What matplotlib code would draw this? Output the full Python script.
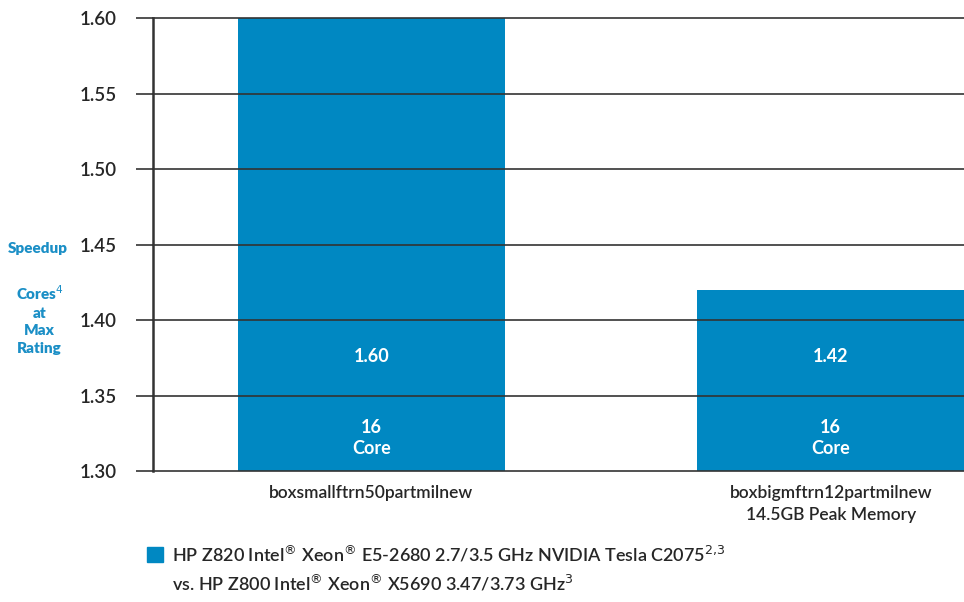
import matplotlib
matplotlib.use("Agg")
import matplotlib.pyplot as plt
from matplotlib.patches import Rectangle

# Data
categories = ["boxsmallftrn50partmilnew", "boxbigmftrn12partmilnew\n14.5GB Peak Memory"]
speedup = [1.60, 1.42]
cores = [16, 16]
yticks = [1.30, 1.35, 1.40, 1.45, 1.50, 1.55, 1.60]

BLUE = "#0088c2"
LABEL_BLUE = "#1b8fc6"
TEXT = "#262626"

plt.rcParams["font.family"] = ["Lato", "DejaVu Sans"]

fig = plt.figure(figsize=(9.64, 6.02), dpi=100)
ax = fig.add_axes([0.1587, 0.2176, 0.8413, 0.7525])

x = list(range(len(categories)))
ax.bar(x, speedup, width=0.582, color=BLUE, zorder=1)

ax.set_ylim(1.30, 1.60)
ax.set_xlim(-0.475, 1.29)
ax.set_yticks(yticks)
ax.set_yticklabels([f"{v:.2f}" for v in yticks], fontsize=13.5, color=TEXT,
                   fontweight="semibold")
ax.set_xticks(x)
ax.set_xticklabels(categories, fontsize=12.5, color=TEXT, linespacing=1.5,
                   fontweight="semibold")
ax.tick_params(axis="x", length=0, pad=10)
ax.tick_params(axis="y", length=12, width=1.2, color="#333333", pad=14)

for y in yticks:
    ax.axhline(y, color="#333333", lw=1.2, zorder=3, clip_on=False)

for s in ["top", "right", "bottom"]:
    ax.spines[s].set_visible(False)
ax.spines["left"].set_linewidth(1.8)
ax.spines["left"].set_color("#333333")
ax.spines["left"].set_zorder(4)

# Values and core counts inside bars
for xi, v, c in zip(x, speedup, cores):
    ax.text(xi, 1.376, f"{v:.2f}", ha="center", va="center", color="white",
            fontsize=13, fontweight="bold", zorder=5)
    ax.text(xi, 1.322, f"{c}\nCore", ha="center", va="center", color="white",
            fontsize=13, fontweight="bold", linespacing=1.25, zorder=5)

# Y-axis label block
fig.text(0.039, 0.588, "Speedup", ha="center", va="center", color=LABEL_BLUE,
         fontsize=11, fontweight="heavy")
fig.text(0.041, 0.47, "Cores$^{4}$\nat\nMax\nRating", ha="center", va="center",
         color=LABEL_BLUE, fontsize=11, fontweight="heavy", linespacing=1.4)

# Legend
fig.patches.append(Rectangle((0.1525, 0.066), 0.0166, 0.026, transform=fig.transFigure,
                             color=BLUE, figure=fig))
fig.text(0.178, 0.079,
         "HP Z820 Intel$^{\u00ae}$ Xeon$^{\u00ae}$ E5-2680 2.7/3.5 GHz NVIDIA Tesla C2075$^{2{,}3}$",
         ha="left", va="center", fontsize=13, color=TEXT, fontweight="semibold")
fig.text(0.178, 0.031,
         "vs. HP Z800 Intel$^{\u00ae}$ Xeon$^{\u00ae}$ X5690 3.47/3.73 GHz$^{3}$",
         ha="left", va="center", fontsize=13, color=TEXT, fontweight="semibold")

fig.savefig("out.png", dpi=100)
